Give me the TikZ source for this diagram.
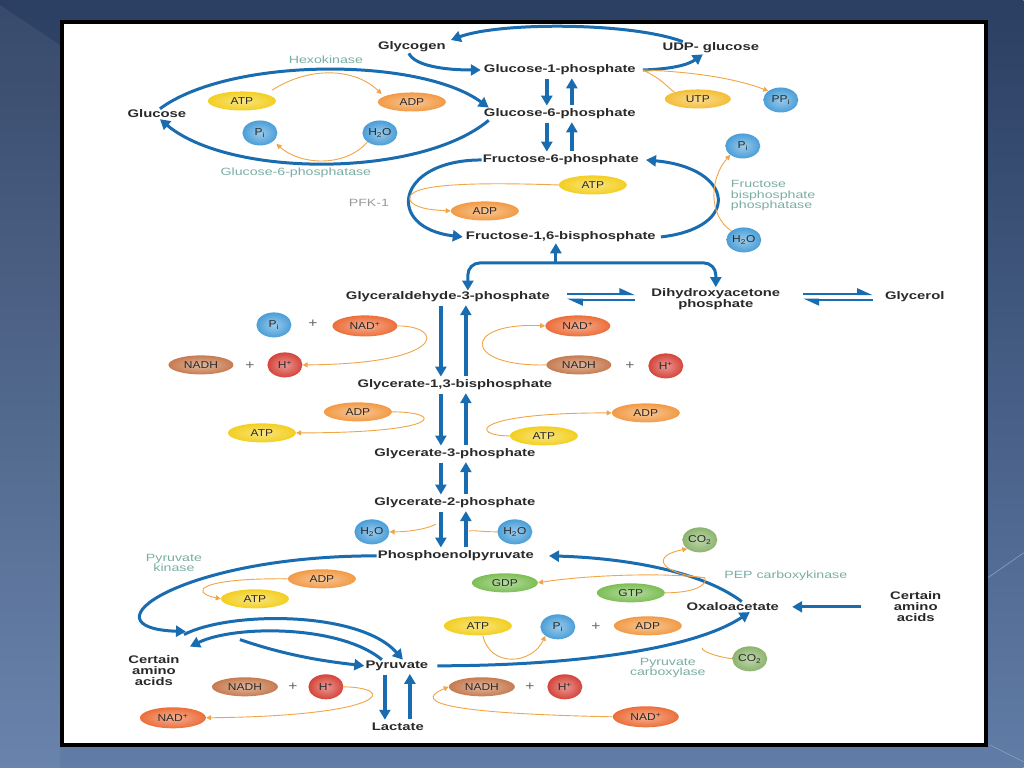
\documentclass[tikz,border=0pt]{standalone}
\usepackage{fontspec}
\setmainfont{Liberation Sans}[FakeStretch=1.35]
\newfontfamily\molfont{Liberation Sans}[FakeStretch=1.2]
\usetikzlibrary{arrows.meta, shapes.geometric, calc}

\definecolor{slidetop}{HTML}{2B3F62}
\definecolor{slidebot}{HTML}{617CA7}
\definecolor{fluxc}{HTML}{1A6CB0}
\definecolor{sidec}{HTML}{F0A546}
\definecolor{enzc}{HTML}{7AAEA3}
\definecolor{txtc}{HTML}{2A2A2A}
\definecolor{atpc}{HTML}{F3CF1F}
\definecolor{adpc}{HTML}{F29A45}
\definecolor{utpc}{HTML}{F4BE38}
\definecolor{nadc}{HTML}{EC6E3A}
\definecolor{nadhc}{HTML}{C67B50}
\definecolor{hc}{HTML}{D5443A}
\definecolor{pic}{HTML}{4A9ED8}
\definecolor{gtpc}{HTML}{7DBE55}
\definecolor{co2c}{HTML}{8CB46E}

\begin{document}
\begin{tikzpicture}[
        x=1pt, y=-1pt,
        met/.style={font=\bfseries\fontsize{11}{11}\selectfont, text=txtc,
            align=center, inner sep=1pt},
        enz/.style={font=\fontsize{10.5}{10.5}\selectfont, text=enzc,
            align=center, inner sep=0pt},
        mol/.style={ellipse, minimum width=68pt, minimum height=19pt,
            inner sep=0pt, font=\molfont\fontsize{10}{10}\selectfont, text=txtc,
            shading=radial, inner color=#1!55!white, outer color=#1},
        ball/.style={mol=#1, minimum width=35pt, minimum height=25pt},
        plus/.style={font=\molfont\fontsize{13}{13}\selectfont, text=black!60, inner sep=0pt},
        flux/.style={draw=fluxc, line width=3pt, -{Triangle[length=10pt, width=11pt]}},
        vflux/.style={flux, line width=3.6pt, shorten <=3pt, shorten >=2pt},
        eq/.style={draw=fluxc, line width=2.4pt,
            -{Triangle[harpoon, length=13pt, width=11pt]}},
        side/.style={draw=sidec, line width=0.9pt, -{Triangle[length=5pt, width=5pt]}},
        sideline/.style={draw=sidec, line width=0.9pt},
    ]

    % slide background
    \shade[top color=slidetop, bottom color=slidebot] (0,0) rectangle (1024,768);
    \fill[white, opacity=0.06] (0,5) -- (60,45) -- (60,768) -- (0,768) -- cycle;
    \draw[white, opacity=0.35, line width=0.6pt] (988,578) -- (1024,553);
    \draw[white, opacity=0.25, line width=0.6pt] (990,745) -- (1024,762);
    \draw[black, line width=4pt, fill=white] (62,22) rectangle (986,745);

    % --- Metabolites ---
    \node[met] (glycogen) at (412,47) {Glycogen};
    \node[met] (udpg) at (711,48) {UDP- glucose};
    \node[met] (g1p) at (560,70) {Glucose-1-phosphate};
    \node[met] (g6p) at (560,114) {Glucose-6-phosphate};
    \node[met] (glc) at (157,114) {Glucose};
    \node[met] (f6p) at (561,160) {Fructose-6-phosphate};
    \node[met] (fbp) at (561,237) {Fructose-1,6-bisphosphate};
    \node[met] (gap) at (448,297) {Glyceraldehyde-3-phosphate};
    \node[met] (dhap) at (716,299) {Dihydroxyacetone\\phosphate};
    \node[met] (glyc) at (915,297) {Glycerol};
    \node[met] (bpg) at (455,385) {Glycerate-1,3-bisphosphate};
    \node[met] (pg3) at (455,454) {Glycerate-3-phosphate};
    \node[met] (pg2) at (455,503) {Glycerate-2-phosphate};
    \node[met] (pep) at (456,556) {Phosphoenolpyruvate};
    \node[met] (oaa) at (733,607) {Oxaloacetate};
    \node[met] (aar) at (916,607) {Certain\\amino\\acids};
    \node[met] (aal) at (154,671) {Certain\\amino\\acids};
    \node[met] (pyr) at (397,666) {Pyruvate};
    \node[met] (lac) at (398,727) {Lactate};

    % --- Enzymes ---
    \node[enz] (hk) at (326,60) {Hexokinase};
    \node[enz] (g6pase) at (296,173) {Glucose-6-phosphatase};
    \node[enz, text=black!40] (pfk) at (369,203) {PFK-1};
    \node[enz, align=left, anchor=west] (fbpase) at (731,196)
        {Fructose\\bisphosphate\\phosphatase};
    \node[enz] (pk) at (174,563) {Pyruvate\\kinase};
    \node[enz] (pepck) at (786,576) {PEP carboxykinase};
    \node[enz] (pc) at (668,668) {Pyruvate\\carboxylase};

    % --- Cofactors ---
    \node[mol=atpc] (atp1) at (242,101) {ATP};
    \node[mol=adpc] (adp1) at (412,102) {ADP};
    \node[ball=pic] (pi1) at (260,133) {P\textsubscript{i}};
    \node[ball=pic] (h2o1) at (380,133) {H\textsubscript{2}O};
    \node[mol=utpc, minimum width=66pt] (utp) at (698,99) {UTP};
    \node[ball=pic] (ppi) at (781,100) {PP\textsubscript{i}};
    \node[ball=pic] (pi2) at (743,146) {P\textsubscript{i}};
    \node[mol=atpc] (atp2) at (593,185) {ATP};
    \node[mol=adpc] (adp2) at (485,211) {ADP};
    \node[ball=pic] (h2o2) at (744,240) {H\textsubscript{2}O};

    \node[ball=pic] (pi3) at (274,325) {P\textsubscript{i}};
    \node[plus] (pl1) at (313,324) {+};
    \node[mol=nadc, minimum width=65pt, minimum height=21pt] (nad1) at (365,326) {NAD\textsuperscript{+}};
    \node[mol=nadhc, minimum width=65pt] (nadh1) at (201,365) {NADH};
    \node[plus] (pl2) at (250,366) {+};
    \node[ball=hc] (hp1) at (285,365) {H\textsuperscript{+}};
    \node[mol=nadc, minimum width=65pt, minimum height=21pt] (nad2) at (578,326) {NAD\textsuperscript{+}};
    \node[mol=nadhc, minimum width=65pt] (nadh2) at (579,365) {NADH};
    \node[plus] (pl3) at (630,366) {+};
    \node[ball=hc] (hp2) at (666,366) {H\textsuperscript{+}};

    \node[mol=adpc] (adp3) at (358,412) {ADP};
    \node[mol=atpc] (atp3) at (262,433) {ATP};
    \node[mol=adpc] (adp4) at (646,413) {ADP};
    \node[mol=atpc] (atp4) at (544,436) {ATP};

    \node[ball=pic] (h2o3) at (372,532) {H\textsubscript{2}O};
    \node[ball=pic] (h2o4) at (515,532) {H\textsubscript{2}O};
    \node[ball=co2c] (co2a) at (700,540) {CO\textsubscript{2}};
    \node[mol=adpc] (adp5) at (322,579) {ADP};
    \node[mol=atpc] (atp5) at (255,599) {ATP};
    \node[mol=gtpc, minimum width=66pt] (gdp) at (505,583) {GDP};
    \node[mol=gtpc, minimum width=68pt] (gtp) at (631,593) {GTP};
    \node[mol=atpc] (atp6) at (478,626) {ATP};
    \node[ball=pic] (pi4) at (558,627) {P\textsubscript{i}};
    \node[plus] (pl4) at (596,627) {+};
    \node[mol=adpc] (adp6) at (648,626) {ADP};
    \node[ball=co2c] (co2b) at (750,659) {CO\textsubscript{2}};

    \node[mol=nadhc, minimum width=66pt] (nadh3) at (245,687) {NADH};
    \node[plus] (pl5) at (293,687) {+};
    \node[ball=hc] (hp3) at (326,687) {H\textsuperscript{+}};
    \node[mol=nadc, minimum width=66pt, minimum height=21pt] (nad3) at (173,718) {NAD\textsuperscript{+}};
    \node[mol=nadhc, minimum width=66pt] (nadh4) at (482,687) {NADH};
    \node[plus] (pl6) at (530,687) {+};
    \node[ball=hc] (hp4) at (565,687) {H\textsuperscript{+}};
    \node[mol=nadc, minimum width=66pt, minimum height=21pt] (nad4) at (646,717) {NAD\textsuperscript{+}};

    % --- Column guides for the paired arrows ---
    \coordinate (dnA) at (547,0);
    \coordinate (upA) at (572,0);
    \coordinate (dnB) at (441,0);
    \coordinate (upB) at (466,0);
    \coordinate (dnC) at (385,0);
    \coordinate (upC) at (410,0);

    % --- Glycogen branch ---
    \draw[flux] ([xshift=-28]udpg.north) .. controls (630,22) and (500,22)
        .. ([shift={(4,-7)}]glycogen.east);
    \draw[flux] ([xshift=-3]glycogen.south) .. controls (415,66) and (445,70)
        .. ([xshift=-2]g1p.west);
    \draw[flux] ([xshift=6]g1p.east) .. controls (672,69) and (688,65)
        .. ([xshift=-8]udpg.south);
    \draw[sideline] ([xshift=6]g1p.east) .. controls (664,80) and (668,88)
        .. (utp.north west);
    \draw[side] ([xshift=6]g1p.east) .. controls (700,72) and (740,80)
        .. (ppi.north west);

    % --- Glucose / G6P cycle ---
    \draw[vflux] (g1p.south -| dnA) -- (g6p.north -| dnA);
    \draw[vflux] (g6p.north -| upA) -- (g1p.south -| upA);
    \draw[vflux] (g6p.south -| dnA) -- (f6p.north -| dnA);
    \draw[vflux] (f6p.north -| upA) -- (g6p.south -| upA);
    \draw[flux] ([xshift=3]glc.north) .. controls (230,57) and (420,57)
        .. ([xshift=6]g6p.north west);
    \draw[flux] ([xshift=6]g6p.south west) .. controls (420,178) and (230,178)
        .. ([xshift=3]glc.south);
    \draw[side] ([shift={(6,-4)}]atp1.north east) .. controls (310,66) and (355,68)
        .. ([shift={(-6,-1)}]adp1.north west);
    \draw[side] (h2o1.south west) .. controls (345,168) and (300,165)
        .. ([shift={(4,2)}]pi1.south east);

    % --- PFK-1 / FBPase ---
    \draw[flux] (f6p.west) .. controls (395,160) and (385,228)
        .. ([xshift=-2]fbp.west);
    \draw[side] (atp2.west) .. controls (470,182) and (405,184)
        .. (410,200) .. controls (414,208) and (430,210) .. (adp2.west);
    \draw[flux] ([xshift=4]fbp.east) .. controls (742,228) and (735,168)
        .. ([xshift=6]f6p.east);
    \draw[side] (h2o2.north west) .. controls (708,215) and (710,178)
        .. (pi2.south west);

    % --- Aldolase ---
    \coordinate (ald) at (556,263);
    \draw[flux] (ald) -- ([xshift=-5]fbp.south);
    \draw[flux, rounded corners=12pt] (ald) -| ([xshift=20]gap.north);
    \draw[flux, rounded corners=12pt] (ald) -| (dhap.north);
    \draw[eq] ([shift={(16,-3)}]gap.east) -- ([shift={(-15,-5)}]dhap.west);
    \draw[eq] ([shift={(-15,1)}]dhap.west) -- ([shift={(16,3)}]gap.east);
    \draw[eq] ([shift={(22,-5)}]dhap.east) -- ([shift={(-11,-3)}]glyc.west);
    \draw[eq] ([shift={(-11,3)}]glyc.west) -- ([shift={(22,1)}]dhap.east);

    % --- Triose to pyruvate trunk ---
    \draw[vflux] (gap.south -| dnB) -- (bpg.north -| dnB);
    \draw[vflux] (bpg.north -| upB) -- (gap.south -| upB);
    \draw[vflux] (bpg.south -| dnB) -- (pg3.north -| dnB);
    \draw[vflux] (pg3.north -| upB) -- (bpg.south -| upB);
    \draw[vflux] (pg3.south -| dnB) -- (pg2.north -| dnB);
    \draw[vflux] (pg2.north -| upB) -- (pg3.south -| upB);
    \draw[vflux] (pg2.south -| dnB) -- (pep.north -| dnB);
    \draw[vflux] (pep.north -| upB) -- (pg2.south -| upB);

    \draw[side] (nad1.east) .. controls (445,326) and (448,364) .. (hp1.east);
    \draw[side] (nadh2.west) .. controls (462,367) and (462,322) .. (nad2.west);
    \draw[side] (adp3.east) .. controls (444,412) and (446,433) .. (atp3.east);
    \draw[side] (atp4.west) .. controls (470,436) and (470,413) .. (adp4.west);
    \draw[side] ([shift={(-5,15)}]pg2.south -| dnB) .. controls (430,528) and (412,532)
        .. (h2o3.east);
    \draw[sideline] (h2o4.west) .. controls (482,532) and (472,530)
        .. ([shift={(3,22)}]pg2.south -| upB);

    % --- PEP, pyruvate, oxaloacetate ---
    \draw[flux] (pep.west) .. controls (180,556) and (80,628)
        .. ([shift={(32,-23)}]aal.north);
    \draw[side] (adp5.west) .. controls (200,578) and (188,592) .. (atp5.west);
    \draw[flux] ([shift={(30,-20)}]aal.north) .. controls (230,611) and (360,611)
        .. ([xshift=6]pyr.north);
    \draw[flux] ([xshift=-15]pyr.north) .. controls (340,625) and (235,625)
        .. ([shift={(36,-8)}]aal.north);
    \draw[flux] ([shift={(86,-15)}]aal.north) .. controls (290,657) and (330,662)
        .. (pyr.west);
    \draw[flux] ([xshift=8]pyr.east) .. controls (560,666) and (690,652)
        .. ([xshift=17]oaa.south);
    \draw[flux] ([xshift=9]oaa.north) .. controls (700,570) and (620,558)
        .. ([xshift=14]pep.east);
    \draw[flux] ([xshift=-28]aar.west) -- ([xshift=12]oaa.east);

    \coordinate (pepckj) at (705,578);
    \draw[sideline] (gtp.east) .. controls (695,593) and (708,585) .. (pepckj);
    \draw[side] (pepckj) .. controls (660,572) and (580,576) .. (gdp.east);
    \draw[side] (pepckj) .. controls (660,574) and (650,556) .. (co2a.south west);
    \draw[side] ([xshift=5]atp6.south) .. controls (490,668) and (532,665)
        .. (pi4.south west);
    \draw[sideline] (co2b.west) .. controls (712,656) and (700,650)
        .. ([shift={(-30,36)}]oaa.south);

    % --- Lactate ---
    \draw[vflux] (pyr.south -| dnC) -- (lac.north -| dnC);
    \draw[vflux] (lac.north -| upC) -- (pyr.south -| upC);
    \draw[side] (hp3.east) .. controls (398,688) and (388,716) .. (nad3.east);
    \draw[side] (nad4.west) .. controls (460,714) and (408,704) .. (nadh4.west);
    \end{tikzpicture}
\end{document}
